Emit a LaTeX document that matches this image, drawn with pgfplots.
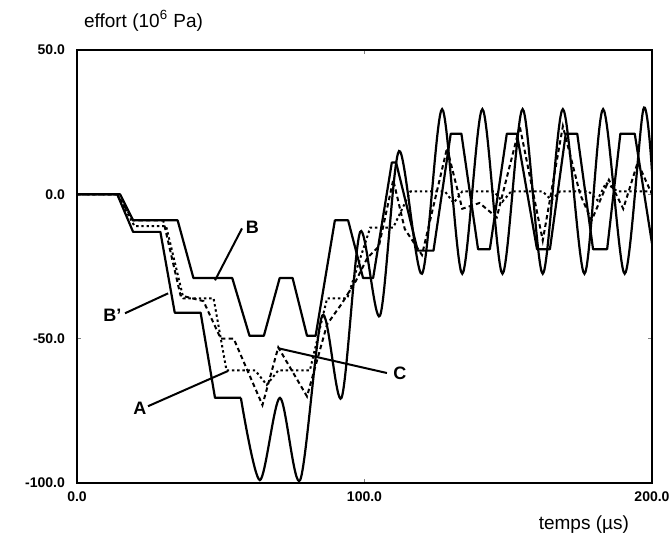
\documentclass[border=0pt]{standalone}
\usepackage{fontspec}
\setmainfont{Liberation Sans}
\setsansfont{Liberation Sans}
\usepackage{pgfplots}
\pgfplotsset{compat=1.18}

\begin{document}
\begin{tikzpicture}
\begin{axis}[
    scale only axis,
    width=287.5pt,
    height=216.5pt,
    xmin=0, xmax=200,
    ymin=-100, ymax=50,
    xtick={0,100,200},
    ytick={-100,-50,0,50},
    tick align=inside,
    major tick length=2pt,
    axis line style={line width=0.9pt},
    tick style={line width=0.6pt},
    /pgf/number format/.cd, fixed, fixed zerofill, precision=1, assume math mode=true,
    /pgfplots/.cd,
    tick label style={font=\fontsize{7}{8}\selectfont\bfseries},
    xticklabel style={yshift=-1pt},
    yticklabel style={xshift=-2.5pt},
    xlabel={temps (µs)},
    xlabel style={at={(rel axis cs:1,0)}, anchor=north east, yshift=-13pt, xshift=-8pt,
        font=\fontsize{9.5}{10}\selectfont},
    ylabel={effort (10\textsuperscript{6} Pa)},
    ylabel style={rotate=-90, at={(rel axis cs:0,1)}, anchor=south west, yshift=6pt,
        font=\fontsize{9.5}{10}\selectfont},
    clip=true,
]
% B : courbe pleine ecretee
\addplot[black, line width=1.1pt, line join=round] coordinates {
    (0,0) (15,0) (19.5,-9) (35,-9) (40.5,-29) (54,-29) (60,-49) (65,-49)
    (70.5,-29) (75,-29) (80,-49) (83,-49) (89.7,-9) (94.3,-9) (99.5,-29) (103,-29)
    (109.5,11) (111,11) (118.5,-19.5) (124,-19.5) (130,21) (133.7,21)
    (139.5,-19) (143.6,-19) (149.5,21) (153,21) (160,-19) (164.5,-19)
    (170,21) (174,21) (179.5,-19) (184.4,-19) (189,21) (194,21) (200,-17)
};
% A : escalier puis oscillation
\addplot[black, line width=1.1pt, line join=round] coordinates {
    (0,0) (14,0) (19.5,-13) (29,-13) (34,-41) (43,-41) (48,-70.5) (57,-70.5)
};
\addplot[black, line width=1.1pt, smooth] coordinates {
    (57,-70.5) (63.6,-99) (70.6,-70.5) (77.6,-99) (85.3,-42) (92,-70.5)
    (98.5,-13) (105.4,-42) (112,15) (120,-27.5) (127,29.5) (134,-27.5)
    (141,29.5) (148,-27.5) (155,29.5) (162,-27.5) (169,29.5) (176.5,-27.5)
    (183,29.5) (190.5,-27.5) (197,29.5) (200,8)
};
% C : tirets
\addplot[black, line width=1pt, dash pattern=on 2.2pt off 1.6pt] coordinates {
    (0,0) (14,0) (19.5,-9) (30,-9) (36,-35) (44,-37) (50,-50) (54.5,-50)
    (64.5,-73) (70,-53) (80,-70) (87,-45) (92,-38) (97,-30) (101,-22) (105,-18)
    (110,5) (114,-12) (120,-21) (128.7,16) (134,-5) (140,-3) (146,-8)
    (154,23.6) (162,-16) (169,23.6) (175,0) (179,-9) (185,5) (190,-5) (195,11) (200,0)
};
% B' : pointilles
\addplot[black, line width=1pt, dash pattern=on 1.2pt off 1.4pt] coordinates {
    (0,0) (14,0) (20,-11) (31,-11) (37,-36) (47.5,-36) (52,-61) (62,-61)
    (66,-66) (70,-61) (81,-61) (87,-36) (94,-36) (102,-11.5) (110,-11.5)
    (116,1) (128,1) (131,-3) (134,1) (145,1) (148,-2.5) (151,1) (162,1)
    (165,-2) (168,1) (178,1) (181,-2) (184,4) (188,1) (200,1)
};
% reperes
\draw[line width=1pt] (axis cs:57.4,-11.8) -- (axis cs:48,-29.8);
\node[font=\fontsize{9}{10}\selectfont\bfseries] at (axis cs:61,-11.4) {B};
\draw[line width=1pt] (axis cs:16.7,-41.2) -- (axis cs:31.7,-34.3);
\node[font=\fontsize{9}{10}\selectfont\bfseries] at (axis cs:12.3,-41.9) {B'};
\draw[line width=1pt] (axis cs:24.7,-73.4) -- (axis cs:52.5,-61.2);
\node[font=\fontsize{9}{10}\selectfont\bfseries] at (axis cs:21.9,-74) {A};
\draw[line width=1pt] (axis cs:107.8,-61.9) -- (axis cs:69.9,-53.3);
\node[font=\fontsize{9}{10}\selectfont\bfseries] at (axis cs:112.3,-61.9) {C};
\end{axis}
\pgfresetboundingbox
\path ([xshift=-38.5pt,yshift=-24.5pt]current axis.south west)
    rectangle ([xshift=9.5pt,yshift=25pt]current axis.north east);
\end{tikzpicture}
\end{document}
